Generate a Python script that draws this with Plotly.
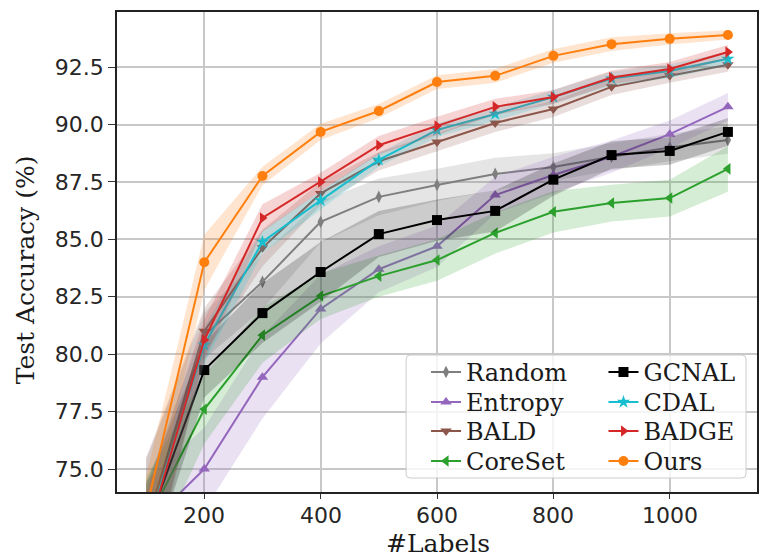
import plotly.graph_objects as go

# Number of labelled samples per active-learning round
labels = [100, 200, 300, 400, 500, 600, 700, 800, 900, 1000, 1100]

# Mean test accuracy (%) per method
random_mean = [72.4, 80.8, 83.15, 85.76, 86.85, 87.37, 87.85, 88.15, 88.6, 89.0, 89.33]
entropy_mean = [72.5, 75.0, 79.0, 81.97, 83.7, 84.7, 86.93, 87.8, 88.6, 89.58, 90.77]
bald_mean = [72.5, 81.0, 84.63, 87.0, 88.4, 89.24, 90.07, 90.68, 91.64, 92.12, 92.6]
coreset_mean = [72.6, 77.6, 80.83, 82.53, 83.4, 84.1, 85.28, 86.2, 86.58, 86.8, 88.07]
gcnal_mean = [72.35, 79.31, 81.79, 83.58, 85.23, 85.84, 86.24, 87.6, 88.67, 88.85, 89.68]
cdal_mean = [72.3, 80.4, 84.89, 86.7, 88.46, 89.76, 90.46, 91.2, 92.0, 92.33, 92.86]
badge_mean = [72.0, 80.62, 85.93, 87.5, 89.1, 89.94, 90.77, 91.2, 92.05, 92.42, 93.16]
ours_mean = [73.2, 84.0, 87.76, 89.68, 90.59, 91.85, 92.12, 92.99, 93.5, 93.73, 93.9]

# Standard deviation across runs (shaded band)
random_std = [3.0, 1.0, 1.2, 0.9, 0.8, 0.7, 0.7, 0.6, 0.6, 0.6, 0.6]
entropy_std = [2.0, 1.8, 1.8, 1.5, 1.0, 0.9, 0.8, 0.8, 0.7, 0.6, 0.6]
bald_std = [3.0, 1.0, 0.8, 0.5, 0.4, 0.4, 0.4, 0.35, 0.35, 0.3, 0.3]
coreset_std = [2.0, 1.5, 1.2, 1.0, 0.9, 0.9, 0.9, 0.9, 0.8, 0.8, 1.0]
gcnal_std = [2.0, 1.2, 1.3, 1.3, 1.0, 0.9, 0.9, 0.7, 0.6, 0.6, 0.6]
cdal_std = [2.0, 0.8, 0.5, 0.4, 0.3, 0.3, 0.3, 0.3, 0.3, 0.3, 0.3]
badge_std = [2.0, 0.9, 0.6, 0.4, 0.4, 0.4, 0.35, 0.3, 0.3, 0.3, 0.3]
ours_std = [1.5, 1.2, 0.4, 0.35, 0.3, 0.3, 0.3, 0.3, 0.3, 0.25, 0.2]

x_ticks = [200, 400, 600, 800, 1000]
y_ticks = [75.0, 77.5, 80.0, 82.5, 85.0, 87.5, 90.0, 92.5]

# name, mean, std, colour (r, g, b), marker symbol, legend (column, row)
methods = [
    ("Random", random_mean, random_std, (127, 127, 127), "diamond-tall", (0, 0)),
    ("Entropy", entropy_mean, entropy_std, (148, 103, 189), "triangle-up", (0, 1)),
    ("BALD", bald_mean, bald_std, (140, 86, 75), "triangle-down", (0, 2)),
    ("CoreSet", coreset_mean, coreset_std, (44, 160, 44), "triangle-left", (0, 3)),
    ("GCNAL", gcnal_mean, gcnal_std, (0, 0, 0), "square", (1, 0)),
    ("CDAL", cdal_mean, cdal_std, (23, 190, 207), "star", (1, 1)),
    ("BADGE", badge_mean, badge_std, (214, 39, 40), "triangle-right", (1, 2)),
    ("Ours", ours_mean, ours_std, (255, 127, 14), "circle", (1, 3)),
]

W, H = 759, 558
ML, MR, MT, MB = 117, 0, 12, 66
PW, PH = W - ML - MR, H - MT - MB


def px_x(p):
    return (p - ML) / PW


def px_y(p):
    return (H - MB - p) / PH


# legend grid: column left edges and row centres (pixels)
LEG_COL_X = [427, 605]
LEG_ROW_Y = [372, 402, 431, 461]
LEG_FONT = 24
LEG_TOP_OFFSET = (LEG_FONT * 1.3 + 3) / 2 + 5

legend_font = dict(family="DejaVu Serif", size=LEG_FONT, color="#1a1a1a")
legend_layouts = {}

fig = go.Figure()

for i, (name, mean, std, rgb, symbol, (col, row)) in enumerate(methods):
    colour = "rgb(%d,%d,%d)" % rgb
    band = "rgba(%d,%d,%d,0.2)" % rgb
    upper = [m + s for m, s in zip(mean, std)]
    lower = [m - s for m, s in zip(mean, std)]
    legend_id = "legend" if i == 0 else "legend%d" % (i + 1)
    legend_layouts[legend_id] = dict(
        x=px_x(LEG_COL_X[col]), y=px_y(LEG_ROW_Y[row] - LEG_TOP_OFFSET),
        xanchor="left", yanchor="top", bgcolor="rgba(0,0,0,0)", borderwidth=0,
        font=legend_font, orientation="v",
    )
    fig.add_trace(go.Scatter(x=labels, y=upper, mode="lines", line=dict(width=0),
                             showlegend=False, hoverinfo="skip"))
    fig.add_trace(go.Scatter(x=labels, y=lower, mode="lines", line=dict(width=0),
                             fill="tonexty", fillcolor=band,
                             showlegend=False, hoverinfo="skip"))
    fig.add_trace(go.Scatter(
        x=labels, y=mean, name=name, mode="lines+markers",
        line=dict(color=colour, width=2),
        marker=dict(symbol=symbol, size=10 if symbol != "diamond-tall" else 9,
                    color=colour, line=dict(width=0)),
        legend=legend_id,
    ))

# Legend frame (rounded, semi-transparent white) behind the legend entries
x0, x1 = px_x(407), px_x(748)
y0, y1 = px_y(478), px_y(355)
rx, ry = 4 / PW, 4 / PH
frame = (
    f"M{x0 + rx},{y0} L{x1 - rx},{y0} Q{x1},{y0} {x1},{y0 + ry} "
    f"L{x1},{y1 - ry} Q{x1},{y1} {x1 - rx},{y1} "
    f"L{x0 + rx},{y1} Q{x0},{y1} {x0},{y1 - ry} "
    f"L{x0},{y0 + ry} Q{x0},{y0} {x0 + rx},{y0} Z"
)
fig.add_shape(type="path", path=frame, xref="paper", yref="paper",
              fillcolor="rgba(255,255,255,0.8)", line=dict(color="#cccccc", width=1),
              layer="above")

tick_font = dict(family="DejaVu Sans", size=22, color="#262626")

# x tick labels set just below the tick marks
annotations = [
    dict(text=str(v), xref="x", yref="paper", x=v, y=px_y(515),
         showarrow=False, xanchor="center", yanchor="middle", font=tick_font)
    for v in x_ticks
]
annotations += [
    dict(text="#Labels", xref="paper", yref="paper", x=px_x(439), y=px_y(543),
         showarrow=False, xanchor="center", yanchor="middle",
         font=dict(family="DejaVu Serif", size=25, color="#1a1a1a")),
    dict(text="Test Accuracy (%)", xref="paper", yref="paper", x=px_x(25), y=px_y(270),
         showarrow=False, xanchor="center", yanchor="middle", textangle=-90,
         font=dict(family="DejaVu Serif", size=25, color="#1a1a1a")),
]

fig.update_layout(
    width=W, height=H,
    margin=dict(l=ML, r=MR, t=MT, b=MB, pad=0),
    paper_bgcolor="white", plot_bgcolor="white",
    showlegend=True,
    xaxis=dict(
        range=[50, 1150], tickvals=x_ticks, showticklabels=False,
        showgrid=True, gridcolor="#c8c8c8", gridwidth=1.5,
        showline=True, linecolor="#222222", linewidth=1.5, mirror=True,
        ticks="outside", ticklen=5, tickwidth=1, tickcolor="#333333",
        zeroline=False,
    ),
    yaxis=dict(
        range=[74.0, 94.9], tickvals=y_ticks, ticktext=["%.1f" % v for v in y_ticks],
        showgrid=True, gridcolor="#c8c8c8", gridwidth=1.5,
        showline=True, linecolor="#222222", linewidth=1.5, mirror=True,
        ticks="outside", ticklen=7, tickwidth=1, tickcolor="#333333",
        tickfont=tick_font, zeroline=False,
    ),
    annotations=annotations,
)
fig.update_layout(**legend_layouts)

fig.write_html("out.html")
